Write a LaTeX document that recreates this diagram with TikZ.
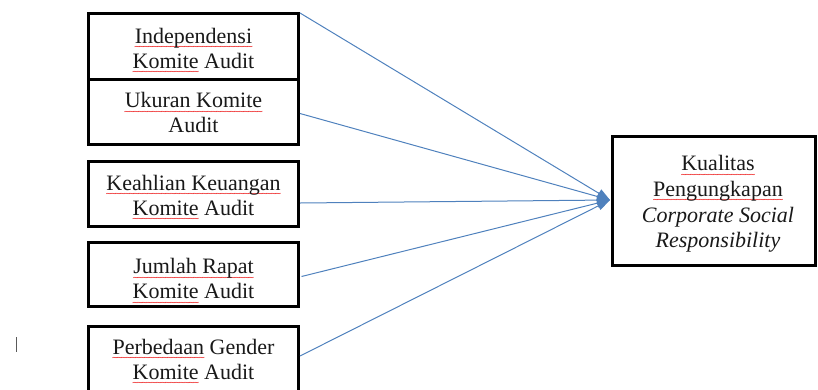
\documentclass[tikz,border=0pt]{standalone}
\usepackage{fontspec}
\setmainfont{Liberation Serif}
\newfontfamily\wavefont{DejaVu Sans}
\usetikzlibrary{arrows.meta}
\definecolor{arrowblue}{RGB}{79,129,189}
\definecolor{cursorgray}{RGB}{90,90,90}
\definecolor{wavered}{RGB}{235,0,0}
\newsavebox\rwbox
\newcommand\wavepiece{\hbox{\wavefont\fontsize{8}{8}\selectfont\kern-1.1pt ∼\kern-1.1pt}}
\newcommand\rw[1]{\sbox\rwbox{#1}\leavevmode\rlap{\raisebox{-6.5pt}[0pt][0pt]{\color{wavered}\hbox to \wd\rwbox{\xleaders\wavepiece\hfill}}}\usebox\rwbox}
\tikzset{
  box/.style={draw=black, line width=3pt, fill=white, inner sep=0pt, minimum width=210pt},
  txt/.style={align=center, inner sep=0pt, font=\fontsize{22}{25}\selectfont, text=black!90},
  conn/.style={draw=arrowblue, line width=1pt, -{Triangle[length=13pt,width=9pt]}}
}
\begin{document}
\begin{tikzpicture}[x=1pt,y=-1pt]
\useasboundingbox (0,0) rectangle (818,389);
\node[box, minimum height=65.5pt] (b1) at (193.5,46.25) {};
\node[box, minimum height=65.5pt] (b2) at (193.5,111.75) {};
\node[box, minimum height=65pt] (b3) at (193.5,194) {};
\node[box, minimum height=64pt] (b4) at (193.5,274.5) {};
\node[box, minimum height=65pt] (b5) at (193.5,359) {};
\node[box, minimum width=203pt, minimum height=129pt] (r) at (714,201) {};
\node[txt] (t1) at ([yshift=-2pt]b1.center) {\rw{Independensi}\\\rw{Komite} Audit};
\node[txt] (t2) at ([yshift=-1pt]b2.center) {\rw{Ukuran Komite}\\Audit};
\node[txt] (t3) at ([yshift=-1pt]b3.center) {\rw{Keahlian Keuangan}\\\rw{Komite} Audit};
\node[txt] (t4) at ([yshift=-4pt]b4.center) {\rw{Jumlah Rapat}\\\rw{Komite} Audit};
\node[txt] (t5) at (b5.center) {\rw{Perbedaan} Gender\\\rw{Komite} Audit};
\node[txt, font=\fontsize{22}{25.7}\selectfont] (tr) at ([xshift=4pt,yshift=-3pt]r.center)
  {\rw{Kualitas}\\\rw{Pengungkapan}\\\textit{Corporate Social}\\\textit{Responsibility}};
\coordinate (t) at (610,200);
\coordinate (s1) at (300,13);
\coordinate (s2) at (300,113.5);
\coordinate (s3) at (300,203);
\coordinate (s4) at (301.5,276.5);
\coordinate (s5) at (300,356);
\foreach \s in {s1,s2,s3,s4,s5} \draw[conn] (\s) -- (t);
\draw[cursorgray, line width=1pt] (16.5,337) -- (16.5,352);
\end{tikzpicture}
\end{document}
